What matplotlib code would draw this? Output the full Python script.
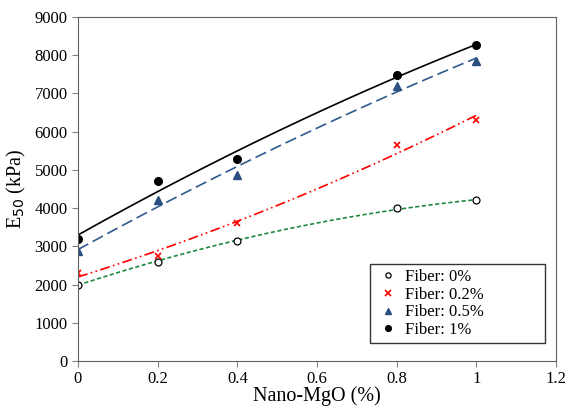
import numpy as np
import matplotlib.pyplot as plt

plt.rcParams['font.family'] = ['Liberation Serif', 'DejaVu Serif']

mgo = [0, 0.2, 0.4, 0.8, 1.0]
fiber_0 = [2000, 2600, 3150, 4000, 4200]
fiber_02 = [2300, 2750, 3600, 5650, 6300]
fiber_05 = [2880, 4200, 4870, 7200, 7850]
fiber_1 = [3200, 4700, 5280, 7480, 8270]

labels = ['Fiber: 0%', 'Fiber: 0.2%', 'Fiber: 0.5%', 'Fiber: 1%']

fig = plt.figure(figsize=(5.66, 4.11), dpi=100)
ax = fig.add_axes([78/566, 1-361/411, 478/566, (361-17)/411])

xs = np.linspace(0, 1, 100)
series = [
    (fiber_0, dict(marker='o', mfc='white', mec='black', ms=5, mew=0.9), '#1e8a3e', (0, (2.5, 1.5))),
    (fiber_02, dict(marker='x', color='red', ms=5, mew=1.2), 'red', (0, (6, 2, 1, 2, 1, 2))),
    (fiber_05, dict(marker='^', color='#2a4f80', ms=5.5), '#2f5a8e', (0, (7, 3))),
    (fiber_1, dict(marker='o', color='black', ms=5.5), 'black', '-'),
]

handles = []
for (vals, mk, lc, ls), lab in zip(series, labels):
    # quadratic trendline through the points
    p = np.polyfit(mgo, vals, 2)
    ax.plot(xs, np.polyval(p, xs), color=lc, linestyle=ls, linewidth=1.2)
    h, = ax.plot(mgo, vals, linestyle='none', label=lab, **mk)
    handles.append(h)

ax.set_xlim(0, 1.2)
ax.set_ylim(0, 9000)
ax.set_xticks([0, 0.2, 0.4, 0.6, 0.8, 1, 1.2])
ax.set_xticklabels(['0', '0.2', '0.4', '0.6', '0.8', '1', '1.2'])
ax.set_yticks(range(0, 9001, 1000))
ax.tick_params(labelsize=12, direction='out', length=4, color='#808080')
ax.tick_params(axis='x', pad=3)
for s in ax.spines.values():
    s.set_color('#606060')
ax.set_xlabel('Nano-MgO (%)', fontsize=14.5, labelpad=0)
ax.set_ylabel('E$_{50}$ (kPa)', fontsize=14.5, labelpad=5)

x0 = (370 - 78) / 478
x1 = (545 - 78) / 478
y0 = (361 - 343) / 344
y1 = (361 - 272) / 344
leg = ax.legend(handles=handles, loc='lower left', bbox_to_anchor=(x0, y0, x1 - x0, y1 - y0),
                mode='expand', borderaxespad=0, markerscale=0.75,
                fontsize=12, fancybox=False, edgecolor='black', handlelength=1.5,
                handletextpad=0.3, labelspacing=0.1, borderpad=0.3)
leg.get_frame().set_linewidth(1.0)

fig.savefig('out.png', dpi=100)
